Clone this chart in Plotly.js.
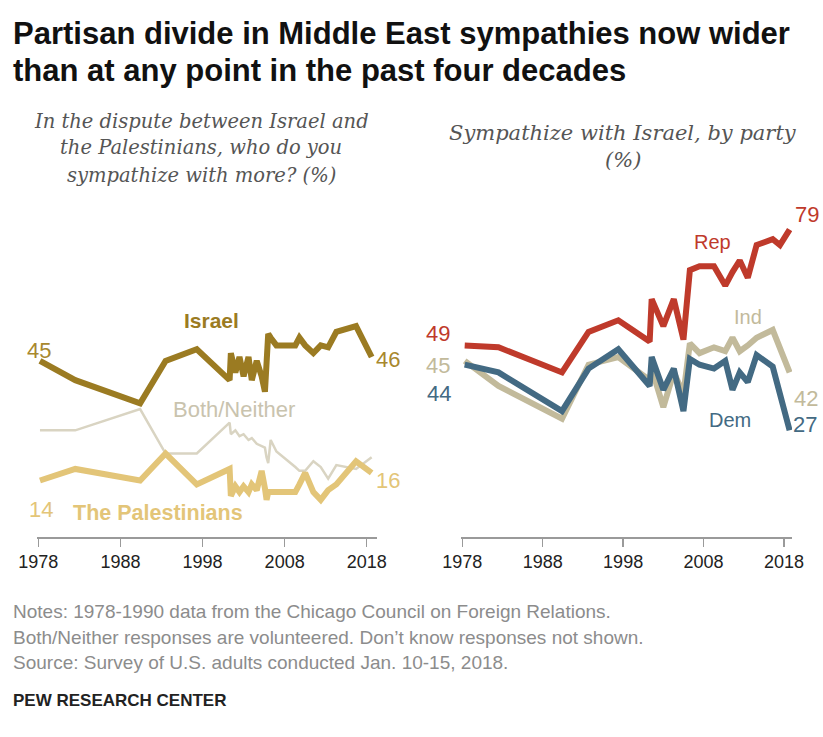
<!DOCTYPE html>
<html>
<head>
<meta charset="utf-8">
<script src="https://cdn.plot.ly/plotly-3.0.1.min.js"></script>
<style>
  html, body { margin: 0; padding: 0; background: #fff; }
  #chart { width: 823px; height: 737px; }
</style>
</head>
<body>
<div id="chart"></div>
<script>
// ---- Data: left panel (who do you sympathize with more?) ----
const leftYears = [1978.2, 1982.5, 1990.4, 1993.5, 1997.3, 2001.3, 2001.45, 2002.0, 2002.5, 2003.0, 2003.6, 2004.0, 2004.6, 2005.2, 2005.6, 2005.8, 2006.0, 2006.3, 2007.0, 2009.3, 2009.8, 2010.5, 2011.5, 2012.4, 2013.3, 2014.3, 2016.7, 2018.6];
const israel       = [45, 40, 34, 45, 48, 40, 47, 42, 46, 41, 46, 40, 45, 41, 37, 44, 52, 51, 49, 49, 51, 49, 47, 49, 48.5, 52.5, 54, 46];
const palestinians = [14, 17, 14, 21, 13, 17, 10, 12.5, 11, 12.5, 11, 13, 11.5, 16.5, 12, 9, 11, 11, 11, 11, 13, 16, 11, 9, 11.5, 13, 19, 16];
const bothNeither  = [27, 27, 32.5, 21, 21, 29, 26, 27, 25.5, 26, 24.5, 25, 23.5, 23, 22.5, 20, 18.5, 24.5, 21.5, 17.5, 16.5, 16.5, 19, 17.5, 14.5, 18, 17, 20];

// ---- Data: right panel (sympathize with Israel, by party) ----
const rightYears = [1978.3, 1982.5, 1990.4, 1993.7, 1997.4, 2001.3, 2001.55, 2003.0, 2004.3, 2005.5, 2006.3, 2007.5, 2009.3, 2010.7, 2011.6, 2012.5, 2013.5, 2014.6, 2016.6, 2017.5, 2018.7];
const rep = [49, 48.5, 42, 52.5, 55.5, 50, 61, 54, 61, 50.5, 68.5, 69.5, 69.5, 64.5, 68, 71, 66.5, 75, 76.5, 75, 79];
const ind = [45, 38.5, 30, 44, 46, 40, 43, 33, 42, 36.5, 49.5, 47, 48.5, 47.5, 51, 47.5, 49, 51, 53, null, 42];
const dem = [44, 42, 32, 43, 48, 38.5, 46, 37.5, 43, 32, 45.5, 44, 43, 45, 37.5, 42, 39.5, 46.5, 43.5, null, 27];

const tickYears = [1978, 1988, 1998, 2008, 2018];
const tickText = ['1978', '1988', '1998', '2008', '2018'];

// ---- Colours ----
const C = {
  israel: '#9b7b22', pal: '#e3c578', both: '#d9d4c2',
  rep: '#bf3a2b', ind: '#c2ba9b', dem: '#436a83'
};

const W = 823, H = 737;
const px = x => x / W;
const py = y => 1 - y / H;

function tr(x, y, color, width, xa, ya) {
  return { x: x, y: y, type: 'scatter', mode: 'lines', connectgaps: true,
    line: { color: color, width: width }, xaxis: xa, yaxis: ya, hoverinfo: 'skip' };
}

const traces = [
  tr(leftYears, bothNeither, C.both, 2.5, 'x', 'y'),
  tr(leftYears, palestinians, C.pal, 6, 'x', 'y'),
  tr(leftYears, israel, C.israel, 6, 'x', 'y'),
  tr(rightYears, ind, C.ind, 6, 'x2', 'y2'),
  tr(rightYears, dem, C.dem, 6, 'x2', 'y2'),
  tr(rightYears, rep, C.rep, 6, 'x2', 'y2')
];

const sans = 'Liberation Sans, Arial, sans-serif';
const xBase = {
  tickvals: tickYears, ticktext: tickText, ticks: 'outside', ticklen: 8, tickwidth: 1.5,
  tickcolor: '#9a9a9a', showline: true, linecolor: '#9a9a9a', linewidth: 2,
  showgrid: false, zeroline: false, fixedrange: true,
  tickfont: { family: sans, size: 18, color: '#222' }
};
const yBase = { range: [-0.5, 82], visible: false, fixedrange: true, showgrid: false, zeroline: false };
const yDomain = [1 - 536.5 / H, 1 - 218 / H];

function ann(text, x, y, color, size, opts) {
  return Object.assign({ text: text, x: px(x), y: py(y), xref: 'paper', yref: 'paper',
    showarrow: false, xanchor: 'center', yanchor: 'middle',
    font: { family: sans, size: size, color: color } }, opts || {});
}

const serif = 'DejaVu Serif, Georgia, serif';
function sub(text, x, y, size) {
  return ann('<i>' + text + '</i>', x, y, '#555', size, { font: { family: serif, size: size, color: '#555' } });
}

const annotations = [
  ann('<b>Partisan divide in Middle East sympathies now wider</b>', 11, 33, '#111', 31, { xanchor: 'left' }),
  ann('<b>than at any point in the past four decades</b>', 11, 70, '#111', 31, { xanchor: 'left' }),
  sub('In the dispute between Israel and', 201, 121, 19.5),
  sub('the Palestinians, who do you', 201, 148, 19.5),
  sub('sympathize with more? (%)', 201, 175, 19.5),
  sub('Sympathize with Israel, by party', 623, 133, 21),
  sub('(%)', 623, 160, 21),
  // left panel labels
  ann('<b>Israel</b>', 212, 320, C.israel, 21),
  ann('45', 39, 350, '#a8882e', 22),
  ann('46', 388, 359, '#a8882e', 22),
  ann('Both/Neither', 234, 409, '#c9c3ae', 22),
  ann('14', 41, 510, C.pal, 22),
  ann('<b>The Palestinians</b>', 158, 513, C.pal, 21.5),
  ann('16', 388, 480, C.pal, 22),
  // right panel labels
  ann('49', 438, 333, C.rep, 22),
  ann('45', 438, 365, C.ind, 22),
  ann('44', 439, 393, C.dem, 22),
  ann('Rep', 712, 242, C.rep, 20),
  ann('79', 807, 214, C.rep, 22),
  ann('Ind', 748, 317, C.ind, 20),
  ann('42', 806, 398, C.ind, 22),
  ann('Dem', 730, 420, C.dem, 20),
  ann('27', 805, 424, C.dem, 22),
  // notes
  ann('Notes: 1978-1990 data from the Chicago Council on Foreign Relations.', 11, 611, '#8c8c8c', 19, { xanchor: 'left' }),
  ann('Both/Neither responses are volunteered. Don\u2019t know responses not shown.', 11, 637, '#8c8c8c', 19, { xanchor: 'left' }),
  ann('Source: Survey of U.S. adults conducted Jan. 10-15, 2018.', 11, 662, '#8c8c8c', 19, { xanchor: 'left' }),
  ann('<b>PEW RESEARCH CENTER</b>', 11, 700, '#222', 17, { xanchor: 'left' })
];

const layout = {
  width: W, height: H, margin: { l: 0, r: 0, t: 0, b: 0 },
  paper_bgcolor: '#fff', plot_bgcolor: 'rgba(0,0,0,0)', showlegend: false,
  xaxis: Object.assign({}, xBase, { domain: [37 / W, 377 / W], range: [1977.84, 2019.25], anchor: 'y' }),
  yaxis: Object.assign({}, yBase, { domain: yDomain, anchor: 'x' }),
  xaxis2: Object.assign({}, xBase, { domain: [461 / W, 792 / W], range: [1977.84, 2019.0], anchor: 'y2' }),
  yaxis2: Object.assign({}, yBase, { domain: yDomain, anchor: 'x2' }),
  annotations: annotations
};

Plotly.newPlot('chart', traces, layout, { staticPlot: true, displayModeBar: false });
</script>
</body>
</html>
